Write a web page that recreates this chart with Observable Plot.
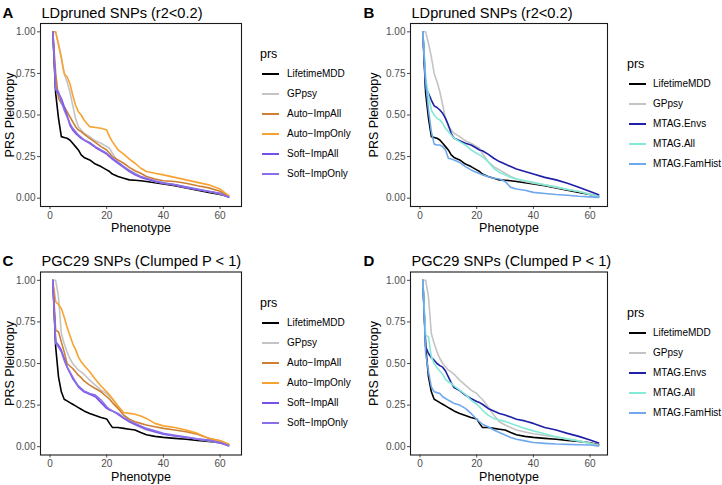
<!DOCTYPE html>
<html>
<head>
<meta charset="utf-8">
<script src="https://cdn.jsdelivr.net/npm/d3@7"></script>
<script src="https://cdn.jsdelivr.net/npm/@observablehq/plot@0.6"></script>
<style>
  body { margin: 0; background: #fff; }
  #chart { position: relative; width: 722px; height: 485px; background: #fff; overflow: hidden;
           font-family: "Liberation Sans", Arial, Helvetica, sans-serif; }
  .panel { position: absolute; }
  .lg-title { position: absolute; font-size: 12.5px; line-height: 14px; color: #000; }
  .lg-key { position: absolute; width: 17px; height: 2px; }
  .lg-label { position: absolute; font-size: 10px; line-height: 12px; color: #000; white-space: nowrap; }
</style>
</head>
<body>
<div id="chart"></div>
<script>
// ---------------- data ----------------
const X = [1,2,3,4,5,6,7,8,9,10,11,12,14,16,18,20,21,22,24,26,28,30,32,34,37,40,44,48,52,56,60,63];
const xTicks = [0, 20, 40, 60];
const yTicks = [0, 0.25, 0.5, 0.75, 1];

// LDpruned SNPs (r2<0.2)
const ldLifetimeMDD = [1.0,0.63,0.48,0.37,0.365,0.36,0.35,0.33,0.31,0.29,0.26,0.245,0.23,0.205,0.19,0.17,0.16,0.145,0.13,0.12,0.11,0.108,0.105,0.10,0.093,0.085,0.075,0.062,0.048,0.035,0.022,0.01];
const ldGPpsy       = [1.0,1.0,0.93,0.85,0.75,0.70,0.64,0.56,0.48,0.43,0.41,0.39,0.37,0.345,0.33,0.31,0.30,0.27,0.22,0.19,0.17,0.15,0.13,0.115,0.10,0.09,0.08,0.065,0.052,0.04,0.025,0.01];
const ldAutoImpAll  = [1.0,0.75,0.60,0.57,0.55,0.52,0.49,0.46,0.43,0.41,0.40,0.385,0.36,0.335,0.31,0.29,0.27,0.25,0.23,0.21,0.185,0.165,0.15,0.13,0.115,0.105,0.10,0.09,0.075,0.062,0.042,0.015];
const ldAutoImpOnly = [1.0,1.0,0.92,0.84,0.75,0.73,0.69,0.62,0.56,0.52,0.50,0.47,0.43,0.425,0.42,0.41,0.37,0.34,0.29,0.265,0.235,0.21,0.18,0.16,0.15,0.14,0.125,0.11,0.095,0.08,0.055,0.015];
const ldSoftImpAll  = [1.0,0.65,0.63,0.60,0.55,0.50,0.44,0.41,0.39,0.375,0.36,0.35,0.33,0.305,0.285,0.265,0.25,0.235,0.21,0.185,0.16,0.14,0.125,0.115,0.10,0.09,0.08,0.065,0.052,0.04,0.028,0.005];
const ldSoftImpOnly = [1.0,0.66,0.64,0.58,0.53,0.49,0.45,0.42,0.40,0.38,0.365,0.35,0.335,0.31,0.29,0.27,0.255,0.24,0.215,0.19,0.165,0.145,0.13,0.12,0.105,0.092,0.082,0.068,0.055,0.042,0.03,0.006];
const ldMTAGEnvs    = [1.0,0.66,0.63,0.59,0.555,0.545,0.53,0.51,0.48,0.44,0.39,0.36,0.345,0.33,0.32,0.30,0.29,0.285,0.265,0.24,0.22,0.205,0.19,0.175,0.16,0.145,0.125,0.11,0.09,0.065,0.04,0.02];
const ldMTAGAll     = [1.0,0.72,0.62,0.53,0.50,0.48,0.47,0.45,0.42,0.40,0.38,0.36,0.34,0.32,0.29,0.27,0.26,0.25,0.22,0.18,0.155,0.14,0.125,0.115,0.105,0.095,0.08,0.068,0.053,0.04,0.022,0.01];
const ldMTAGFamHist = [1.0,0.70,0.53,0.40,0.325,0.32,0.32,0.31,0.29,0.24,0.235,0.23,0.215,0.19,0.17,0.155,0.148,0.14,0.13,0.12,0.115,0.10,0.065,0.055,0.048,0.035,0.028,0.022,0.018,0.012,0.008,0.005];

// PGC29 SNPs (Clumped P < 1)
const pgcLifetimeMDD = [1.0,0.60,0.42,0.33,0.285,0.275,0.265,0.255,0.245,0.235,0.225,0.215,0.20,0.188,0.176,0.167,0.14,0.116,0.115,0.11,0.105,0.10,0.085,0.072,0.062,0.056,0.05,0.045,0.038,0.032,0.024,0.012];
const pgcGPpsy       = [1.0,1.0,0.90,0.68,0.62,0.57,0.53,0.50,0.48,0.46,0.45,0.435,0.40,0.37,0.34,0.32,0.30,0.285,0.24,0.19,0.15,0.13,0.115,0.10,0.088,0.078,0.068,0.058,0.045,0.034,0.022,0.01];
const pgcAutoImpAll  = [1.0,0.70,0.69,0.63,0.57,0.50,0.485,0.47,0.45,0.43,0.415,0.395,0.37,0.35,0.33,0.30,0.285,0.265,0.23,0.19,0.165,0.15,0.14,0.13,0.12,0.11,0.10,0.09,0.075,0.05,0.035,0.015];
const pgcAutoImpOnly = [1.0,0.87,0.855,0.83,0.78,0.72,0.67,0.62,0.585,0.54,0.51,0.49,0.45,0.405,0.365,0.33,0.31,0.29,0.245,0.205,0.20,0.195,0.185,0.17,0.14,0.125,0.115,0.10,0.08,0.05,0.035,0.015];
const pgcSoftImpAll  = [1.0,0.63,0.61,0.58,0.53,0.48,0.445,0.41,0.385,0.36,0.345,0.33,0.315,0.30,0.265,0.23,0.22,0.215,0.195,0.17,0.15,0.135,0.12,0.105,0.09,0.075,0.065,0.055,0.045,0.038,0.022,0.005];
const pgcSoftImpOnly = [1.0,0.62,0.60,0.57,0.52,0.48,0.45,0.42,0.39,0.365,0.35,0.335,0.32,0.31,0.28,0.24,0.225,0.215,0.20,0.175,0.155,0.14,0.125,0.11,0.095,0.08,0.068,0.058,0.047,0.04,0.025,0.006];
const pgcMTAGEnvs    = [1.0,0.60,0.56,0.535,0.52,0.50,0.487,0.478,0.455,0.42,0.385,0.355,0.337,0.31,0.29,0.272,0.265,0.255,0.23,0.215,0.20,0.19,0.178,0.165,0.155,0.14,0.115,0.10,0.08,0.062,0.04,0.022];
const pgcMTAGAll     = [1.0,0.67,0.66,0.54,0.50,0.475,0.455,0.435,0.405,0.39,0.38,0.365,0.34,0.315,0.28,0.255,0.24,0.22,0.19,0.17,0.16,0.152,0.14,0.128,0.11,0.095,0.078,0.06,0.047,0.035,0.018,0.005];
const pgcMTAGFamHist = [1.0,0.56,0.45,0.36,0.33,0.325,0.32,0.30,0.29,0.28,0.27,0.26,0.25,0.23,0.20,0.165,0.15,0.135,0.12,0.10,0.085,0.07,0.055,0.045,0.035,0.025,0.02,0.016,0.014,0.012,0.01,0.005];

const names1 = ["LifetimeMDD","GPpsy","Auto\u2212ImpAll","Auto\u2212ImpOnly","Soft\u2212ImpAll","Soft\u2212ImpOnly"];
const colors1 = ["#000000","#c4c4c4","#cd8032","#f8a331","#7650ea","#8a6fe8"];
const names2 = ["LifetimeMDD","GPpsy","MTAG.Envs","MTAG.All","MTAG.FamHist"];
const colors2 = ["#000000","#c4c4c4","#1f1fa8","#84ead6","#6fa8ec"];

const titleLD = "LDpruned SNPs (r2<0.2)";
const titlePGC = "PGC29 SNPs (Clumped P < 1)";

function toRows(names, arrays) {
  return names.flatMap((n, j) => X.map((x, i) => ({prs: n, x: x, y: arrays[j][i]})));
}

// ---------------- layout ----------------
const FONT = '"Liberation Sans", Arial, Helvetica, sans-serif';
const panels = [
  {tag: "A", title: titleLD, left: 0, top: 0, width: 250, height: 242, ml: 40, mr: 9, mt: 23, mb: 36,
   names: names1, colors: colors1,
   data: toRows(names1, [ldLifetimeMDD, ldGPpsy, ldAutoImpAll, ldAutoImpOnly, ldSoftImpAll, ldSoftImpOnly]),
   tagDx: -38, ylabDx: -31, lg: {tx: 260, ty: 54, kx: 262, lx: 287, y0: 74}},
  {tag: "B", title: titleLD, left: 361, top: 0, width: 250, height: 242, ml: 49, mr: 4, mt: 23, mb: 36,
   names: names2, colors: colors2,
   data: toRows(names2, [ldLifetimeMDD, ldGPpsy, ldMTAGEnvs, ldMTAGAll, ldMTAGFamHist]),
   tagDx: -47, ylabDx: -37, lg: {tx: 627, ty: 64, kx: 629, lx: 653, y0: 84}},
  {tag: "C", title: titlePGC, left: 0, top: 249, width: 250, height: 236, ml: 40, mr: 9, mt: 22.5, mb: 30.5,
   names: names1, colors: colors1,
   data: toRows(names1, [pgcLifetimeMDD, pgcGPpsy, pgcAutoImpAll, pgcAutoImpOnly, pgcSoftImpAll, pgcSoftImpOnly]),
   tagDx: -38, ylabDx: -31, lg: {tx: 260, ty: 303, kx: 262, lx: 287, y0: 323}},
  {tag: "D", title: titlePGC, left: 361, top: 249, width: 250, height: 236, ml: 49, mr: 4, mt: 22.5, mb: 30.5,
   names: names2, colors: colors2,
   data: toRows(names2, [pgcLifetimeMDD, pgcGPpsy, pgcMTAGEnvs, pgcMTAGAll, pgcMTAGFamHist]),
   tagDx: -47, ylabDx: -37, lg: {tx: 627, ty: 313, kx: 629, lx: 653, y0: 333}}
];

const chart = document.getElementById("chart");
const K = 2.835;   // px per phenotype unit
const OFF = 9.5;   // px from frame left to x = 0

for (const p of panels) {
  const fw = p.width - p.ml - p.mr;
  const svg = Plot.plot({
    width: p.width, height: p.height,
    marginLeft: p.ml, marginRight: p.mr, marginTop: p.mt, marginBottom: p.mb,
    style: {fontFamily: FONT, fontSize: "10px", background: "transparent", overflow: "visible"},
    x: {domain: [-OFF / K, (fw - OFF) / K]},
    y: {domain: [-0.05, 1.05]},
    color: {domain: p.names, range: p.colors},
    marks: [
      Plot.axisX({ticks: xTicks, tickSize: 3, tickPadding: 2, label: null, color: "#4d4d4d", fontSize: 10}),
      Plot.axisY({ticks: yTicks, tickSize: 3, tickPadding: 2, label: null, tickFormat: d3.format(".2f"), color: "#4d4d4d", fontSize: 10}),
      Plot.line(p.data, {x: "x", y: "y", z: "prs", stroke: "prs", strokeWidth: 1.6}),
      Plot.frame({stroke: "#1a1a1a", strokeWidth: 1.1}),
      Plot.text([p.title], {text: d => d, frameAnchor: "top-left", dx: 1, dy: -6, textAnchor: "start", lineAnchor: "bottom", fontSize: 14.6, fill: "#000"}),
      Plot.text([p.tag], {text: d => d, frameAnchor: "top-left", dx: p.tagDx, dy: -6, textAnchor: "start", lineAnchor: "bottom", fontSize: 15, fontWeight: "bold", fill: "#000"}),
      Plot.text(["Phenotype"], {text: d => d, frameAnchor: "bottom", dy: 17, lineAnchor: "top", fontSize: 12.5, fill: "#000"}),
      Plot.text(["PRS Pleiotropy"], {text: d => d, frameAnchor: "left", dx: p.ylabDx, rotate: -90, lineAnchor: "middle", textAnchor: "middle", fontSize: 12.5, fill: "#000"})
    ]
  });
  const div = document.createElement("div");
  div.className = "panel";
  div.style.left = p.left + "px";
  div.style.top = p.top + "px";
  div.appendChild(svg);
  chart.appendChild(div);

  // legend
  const t = document.createElement("div");
  t.className = "lg-title";
  t.textContent = "prs";
  t.style.left = p.lg.tx + "px";
  t.style.top = (p.lg.ty - 7) + "px";
  chart.appendChild(t);
  p.names.forEach((n, i) => {
    const y = p.lg.y0 + i * 19.9;
    const k = document.createElement("div");
    k.className = "lg-key";
    k.style.left = p.lg.kx + "px";
    k.style.top = (y - 1) + "px";
    k.style.background = p.colors[i];
    chart.appendChild(k);
    const l = document.createElement("div");
    l.className = "lg-label";
    l.textContent = n;
    l.style.left = p.lg.lx + "px";
    l.style.top = (y - 6) + "px";
    chart.appendChild(l);
  });
}
</script>
</body>
</html>
